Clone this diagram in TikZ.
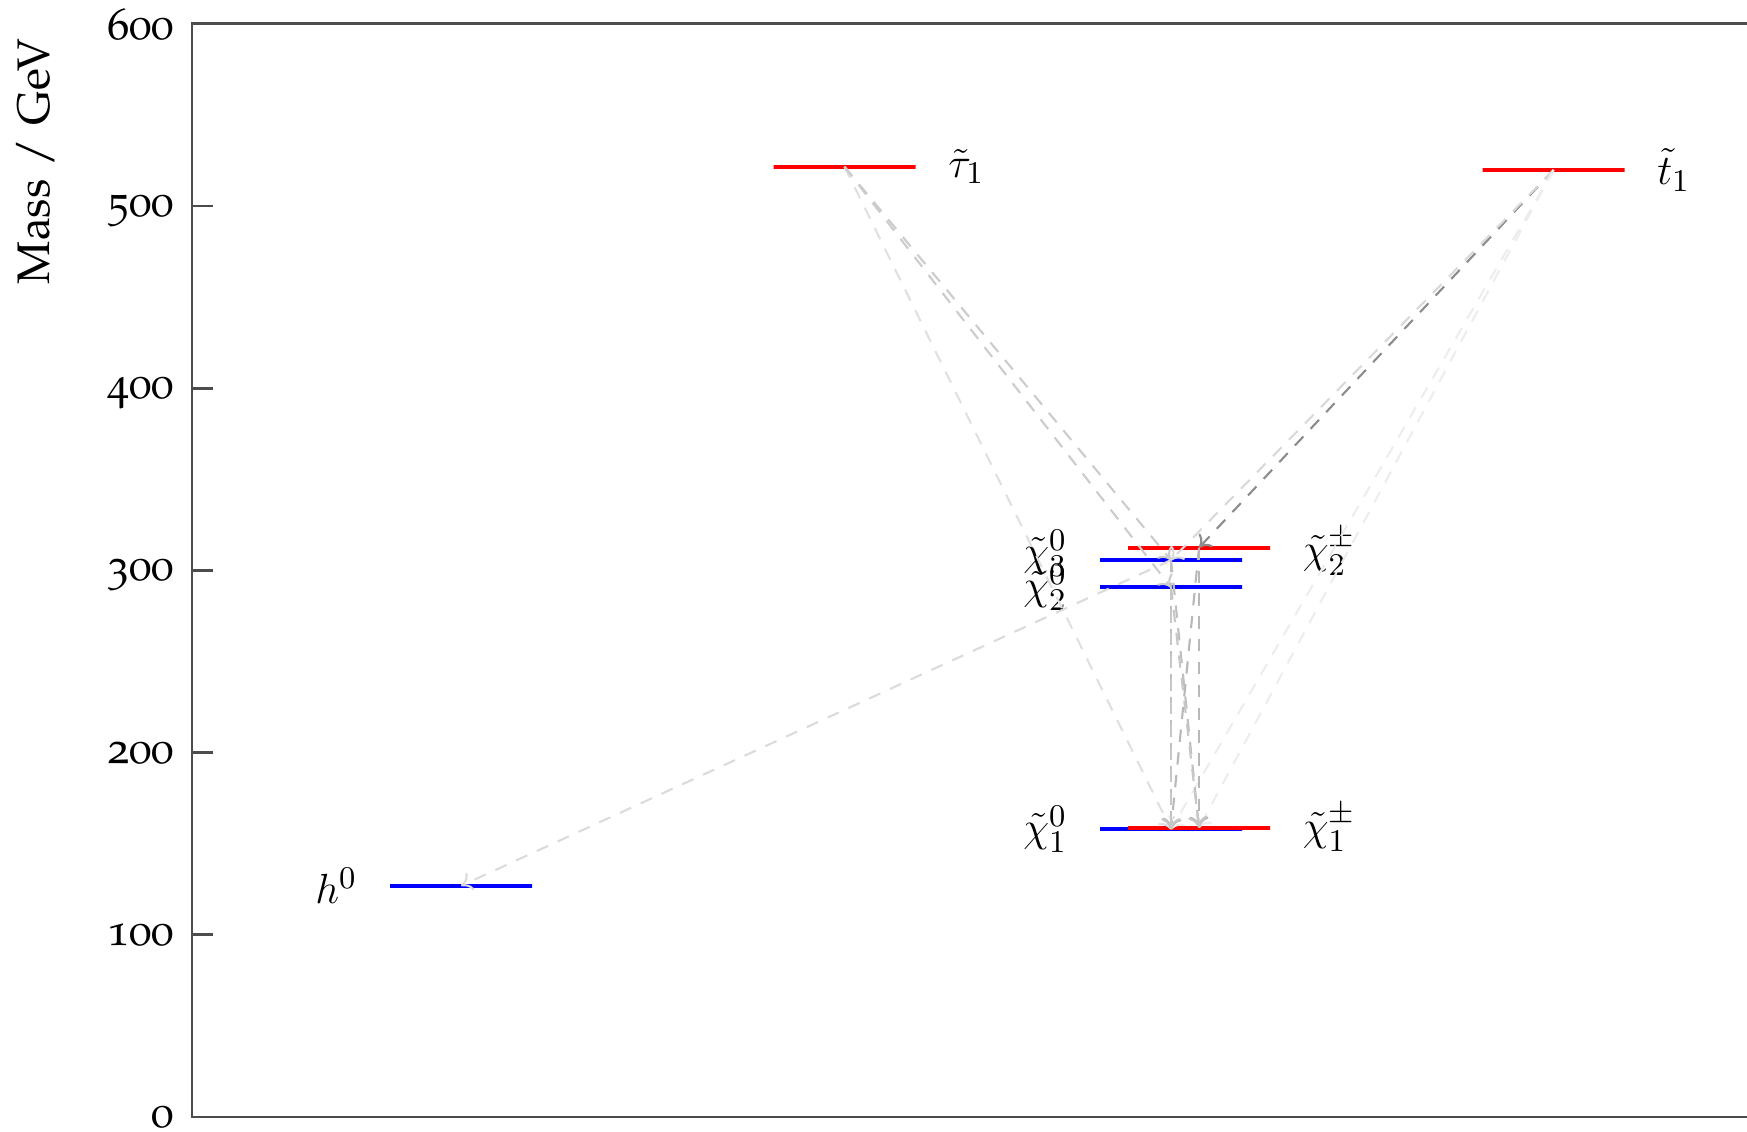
\documentclass[tikz,border=0pt]{standalone}
\usepackage{tikz}
\usetikzlibrary{positioning,arrows.meta}
\newcommand{\palfont}{\fontencoding{T1}\fontfamily{pplj}\selectfont}

\begin{document}
\begin{tikzpicture}[
  x=1cm, y=0.01822cm,
  font=\fontsize{12.7}{15}\selectfont,
  frame/.style={draw=black!70, line width=0.8pt},
  num/.style={font=\fontsize{12.7}{15}\palfont, anchor=base east, inner sep=0pt, yshift=-3pt},
  lvl/.style={draw=#1, line width=1.2pt, minimum width=14.2mm, minimum height=0pt, inner sep=0pt},
  lbl/.style={inner sep=0pt},
  decay/.style={draw=black!#1, dash pattern=on 3.5pt off 3pt, line width=0.6pt, -{To[length=1.1mm,width=1.9mm]}},
  node distance=3mm
]
\useasboundingbox (-1.92cm,-0.14cm) rectangle (15.55cm,11.17cm);

\draw[frame] (15.55,600) -- (0,600) -- (0,0) -- (15.55,0);
\draw[frame] (0,100) -- (0.21,100);
\draw[frame] (0,200) -- (0.21,200);
\draw[frame] (0,300) -- (0.21,300);
\draw[frame] (0,400) -- (0.21,400);
\draw[frame] (0,500) -- (0.21,500);

\node[num] (m0) at (-0.17,0) {0};
\node[num] (m100) at (-0.17,100) {100};
\node[num] (m200) at (-0.17,200) {200};
\node[num] (m300) at (-0.17,300) {300};
\node[num] (m400) at (-0.17,400) {400};
\node[num] (m500) at (-0.17,500) {500};
\node[num, yshift=-1.5pt] (m600) at (-0.17,600) {600};
\node[font=\fontsize{13}{15}\palfont, rotate=90, anchor=base, inner sep=0pt] (ylab) at (-1.42,524.4) {Mass / GeV};

\node[lvl=blue] (hzero) at (2.69,126.9) {};
\node[lvl=blue] (chi10) at (9.79,157.9) {};
\node[lvl=blue] (chi20) at (9.79,290.7) {};
\node[lvl=blue] (chi30) at (9.79,305.7) {};
\node[lvl=red] (chi1pm) at (10.07,158.8) {};
\node[lvl=red] (chi2pm) at (10.07,312.5) {};
\node[lvl=red] (stau) at (6.525,521.6) {};
\node[lvl=red] (stop) at (13.615,519.8) {};

\node[lbl, left=3mm of hzero] (hzerolab) {$h^0$};
\node[lbl, left=3mm of chi10] (chi10lab) {$\tilde{\chi}^0_1$};
\node[lbl, left=3mm of chi20] (chi20lab) {$\tilde{\chi}^0_2$};
\node[lbl, left=3mm of chi30, yshift=2pt] (chi30lab) {$\tilde{\chi}^0_3$};
\node[lbl, right=3mm of chi1pm] (chi1pmlab) {$\tilde{\chi}^\pm_1$};
\node[lbl, right=3mm of chi2pm, yshift=-1pt] (chi2pmlab) {$\tilde{\chi}^\pm_2$};
\node[lbl, right=3mm of stau] (staulab) {$\tilde{\tau}_1$};
\node[lbl, right=3mm of stop] (stoplab) {$\tilde{t}_1$};

\draw[decay=12] (stau.center) -- (chi10.center);
\draw[decay=20] (stau.center) -- (chi20.center);
\draw[decay=20] (stau.center) -- (chi30.center);
\draw[decay=45] (stop.center) -- (chi2pm.center);
\draw[decay=15] (stop.center) -- (chi30.center);
\draw[decay=7] (stop.center) -- (chi1pm.center);
\draw[decay=7] (stop.center) -- (chi10.center);
\draw[decay=14] (chi30.center) -- (hzero.center);
\draw[decay=28] (chi2pm.center) -- (chi10.center);
\draw[decay=28] (chi2pm.center) -- (chi1pm.center);
\draw[decay=25] (chi30.center) -- (chi10.center);
\draw[decay=25] (chi30.center) -- (chi1pm.center);
\draw[decay=22] (chi20.center) -- (chi10.center);
\draw[decay=22] (chi20.center) -- (chi1pm.center);

\end{tikzpicture}
\end{document}
